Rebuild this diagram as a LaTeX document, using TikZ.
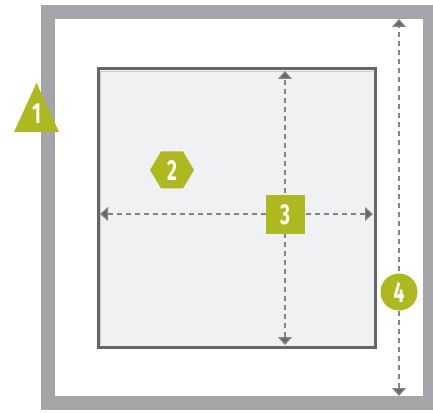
\documentclass[tikz,border=0pt]{standalone}
\usepackage{fontspec}
\setmainfont{Fira Sans}
\usetikzlibrary{shapes.geometric,arrows.meta}
\definecolor{frame}{HTML}{A4A4A9}
\definecolor{dark}{HTML}{65656A}
\definecolor{panel}{HTML}{F0F1F3}
\definecolor{olive}{HTML}{AEB91F}
\tikzset{
  num/.style={text=white,font=\fontsize{29}{29}\selectfont\bfseries},
  dim/.style={draw=dark!80,line width=1.3pt,dash pattern=on 5pt off 4pt,
    {Triangle[length=8pt,width=14pt,fill=dark]}-{Triangle[length=8pt,width=14pt,fill=dark]}},
  badge/.style={fill=olive,draw=none,inner sep=0pt,outer sep=0pt}
}
\newcommand{\dig}[1]{\scalebox{0.66}[1]{#1}}
\begin{document}
\begin{tikzpicture}[x=1pt,y=1pt]
\useasboundingbox (0,0) rectangle (433,412);
% outer frame
\fill[frame] (41,2) rectangle (437,407);
\fill[white] (55,16) rectangle (423,393);
% inner panel
\fill[panel,draw=dark,line width=3pt] (98,65) rectangle (375,343);
\draw[black!20,line width=1.2pt] (100.8,67) -- (100.8,340.2) -- (372.5,340.2);
% coordinates
\coordinate (vt) at (285,341);
\coordinate (vb) at (285,67);
\coordinate (hl) at (100,198);
\coordinate (hr) at (373,198);
\coordinate (rt) at (399,393);
\coordinate (rb) at (399,16);
\draw[dim] (vb) -- (vt);
\draw[dim] (hl) -- (hr);
\draw[dim] (rb) -- (rt);
% badges
\fill[olive] (36.5,329) -- (59,280) -- (14,280) -- cycle;
\node[num] (t1) at (36.5,298) {\dig{1}};
\fill[olive] (150,242) -- (161,260.5) -- (183,260.5) -- (194,242) -- (183,223.5) -- (161,223.5) -- cycle;
\node[num] (t2) at (172,242) {\dig{2}};
\node[badge,minimum width=39pt,minimum height=39pt] (b3) at (285,197) {};
\node[num] (t3) at (285,197) {\dig{3}};
\node[badge,circle,minimum size=37pt] (b4) at (399,120) {};
\node[num] (t4) at (399,120) {\dig{4}};
\end{tikzpicture}
\end{document}
